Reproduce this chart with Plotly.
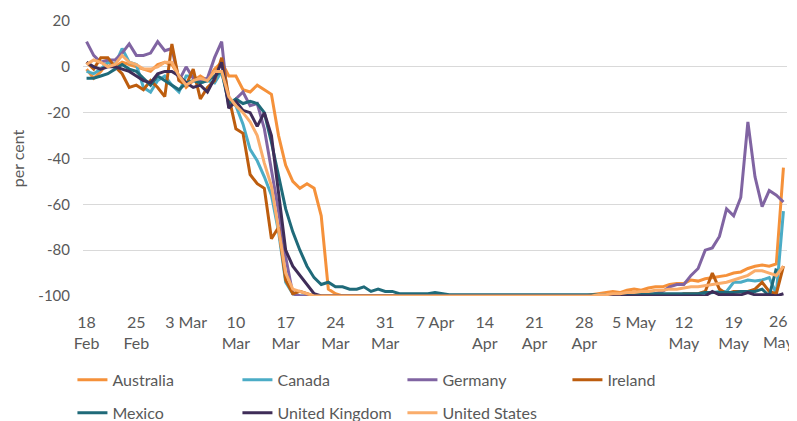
import plotly.graph_objects as go

# day index 0 = 18 Feb 2020 ... 98 = 26 May 2020
days = list(range(99))
tick_pos = [0, 7, 14, 21, 28, 35, 42, 49, 56, 63, 70, 77, 84, 91, 98]
tick_text = ["18<br>Feb", "25<br>Feb", "3 Mar", "10<br>Mar", "17<br>Mar", "24<br>Mar",
             "31<br>Mar", "7 Apr", "14<br>Apr", "21<br>Apr", "28<br>Apr", "5 May",
             "12<br>May", "19<br>May", "26<br>May"]
y_ticks = [20, 0, -20, -40, -60, -80, -100]
y_tick_text = ["20", "0", "-20", "-40", "-60", "-80", "-100"]

australia = ([-1, -5, -2, 2, 0, 2, 1, 0, -1, -2, 1, 2, 1, -4, -9, -6, -4, -6, -1, 2]
             + [-4, -4, -10, -11, -8, -10, -12, -30, -43, -50, -53, -51, -53, -65, -97, -99]
             + [-100] * 35
             + [-99.5, -99, -98.5, -98, -98.5, -97.5, -97, -97.5, -96.5, -96, -96, -95, -94.5,
                -94.5, -93, -93.5, -92.5, -92, -91.5, -91, -90, -89.5, -88, -87, -86.5, -87,
                -86, -44])
canada = ([-2, -3, -1, 2, 1, 8, 2, 1, -9, -11, -6, -4, -8, -11, -4, -4, -7, -6, -7, -2]
          + [-15, -17, -25, -36, -41, -48, -56, -72, -94, -99]
          + [-100] * 55
          + [-99.5, -99, -99, -98.5, -98, -98, -94, -94, -93, -93.5, -93, -92, -99, -63])
germany = ([11, 5, 2, 3, 3, 6, 10, 5, 5, 6, 11, 7, 8, -6, 0, -5, -6, -5, 4, 11]
           + [-18, -14, -11, -17, -16, -27, -45, -63, -83, -99]
           + [-100] * 50
           + [-99, -98, -96, -95, -95, -91, -88, -80, -79, -74, -62, -65, -57, -24, -48,
              -61, -54, -56, -59])
ireland = ([2, -1, 4, 4, 0, -3, -9, -8, -10, -6, -9, -13, 10, -6, -8, -1, -14, -9, -6, 4]
           + [-13, -27, -29, -47, -51, -53, -75, -70, -93, -99, -98, -99]
           + [-100] * 52
           + [-99, -99, -99, -98, -90, -97, -99, -98, -98, -98, -97, -94, -98, -99, -87])
mexico = ([-5, -5, -4, -3, -1, 1, -1, -2, -5, -8, -4, -6, -8, -10, -7, -6, -7, -6, -4, -2]
          + [-16, -14, -16, -15, -16, -20, -33, -48, -62, -72, -80, -87, -92, -95, -94, -96,
             -96, -97, -97, -96, -98, -97, -98, -98, -99, -99, -99, -99, -99, -98.5, -99]
          + [-99.5] * 19
          + [-99.5] * 7
          + [-99] * 10
          + [-98.5] * 5
          + [-98, -98, -98, -97, -100, -88])
uk = ([2, 0, -1, 0, 0, -1, -2, -4, -6, -7, -3, -2, -2, -4, -7, -9, -8, -11, -5, 2]
      + [-18, -15, -19, -20, -26, -20, -30, -55, -80, -87, -91, -95, -99]
      + [-100] * 55
      + [-98] + [-99.5] * 4 + [-98.5] + [-99.5] * 3 + [-100, -99])
us = ([1, 3, 2, 0, 1, 5, 2, 1, -1, -1, 0, 2, 2, -4, -8, -6, -5, -6, -2, -2]
      + [-13, -17, -20, -24, -30, -42, -52, -72, -90, -97, -98, -99]
      + [-100] * 39
      + [-100, -99.5, -99.5, -99, -99, -98.5, -98.5, -98, -98, -97.5, -97.5, -97, -97, -96.5,
         -96, -96, -95.5, -95, -94.5, -94, -93, -92, -91, -89, -89, -90, -91, -87])

series = [
    ("Australia", australia, "#F5913A", "legend"),
    ("Canada", canada, "#4BACC6", "legend"),
    ("Germany", germany, "#8064A2", "legend"),
    ("Ireland", ireland, "#BD5D0E", "legend"),
    ("Mexico", mexico, "#1F6A79", "legend2"),
    ("United Kingdom", uk, "#3F2D58", "legend2"),
    ("United States", us, "#FAAD6B", "legend2"),
]

FONT = "Lato"
GREY = "#595959"

fig = go.Figure()
for name, vals, col, lg in series:
    fig.add_trace(go.Scatter(x=days, y=vals, mode="lines", name=name,
                             line=dict(color=col, width=3), legend=lg))

legend_common = dict(orientation="h", xanchor="left", yanchor="middle",
                     entrywidth=120, entrywidthmode="pixels",
                     font=dict(family=FONT, size=16, color=GREY),
                     bgcolor="rgba(0,0,0,0)", itemclick=False, itemdoubleclick=False)

# the last tick label sits at the right edge: draw it as an annotation nudged inwards
last_label = tick_text[-1]
axis_text = tick_text[:-1] + [""]

# the page body adds an 8px offset; the figure is sized to fit the 797x421 window
fig.update_layout(
    width=789, height=413,
    margin=dict(l=75, r=10, t=13, b=125, autoexpand=False),
    paper_bgcolor="white", plot_bgcolor="white",
    font=dict(family=FONT, size=16, color=GREY),
    showlegend=True,
    legend=dict(x=-0.015, y=-0.305, **legend_common),
    legend2=dict(x=-0.015, y=-0.425, **legend_common),
    xaxis=dict(range=[-0.5, 98.5], tickmode="array", tickvals=tick_pos, ticktext=axis_text,
               showgrid=False, zeroline=False, showline=False, ticks="",
               ticklabelstandoff=15,
               tickfont=dict(family=FONT, size=16, color=GREY)),
    yaxis=dict(range=[-100, 20], tickmode="array", tickvals=y_ticks, ticktext=y_tick_text,
               showgrid=True, gridcolor="#D9D9D9",
               gridwidth=1, zeroline=False, showline=False, ticks="",
               ticklabelstandoff=12,
               tickfont=dict(family=FONT, size=15, color=GREY),
               title=dict(text="per cent", font=dict(family=FONT, size=16, color=GREY),
                          standoff=10)),
    annotations=[dict(x=tick_pos[-1], xref="x", y=0, yref="paper", text=last_label,
                      showarrow=False, xanchor="center", yanchor="top", xshift=-5,
                      yshift=-14, borderpad=0,
                      font=dict(family=FONT, size=16, color=GREY))],
)

fig.write_html("out.html")
